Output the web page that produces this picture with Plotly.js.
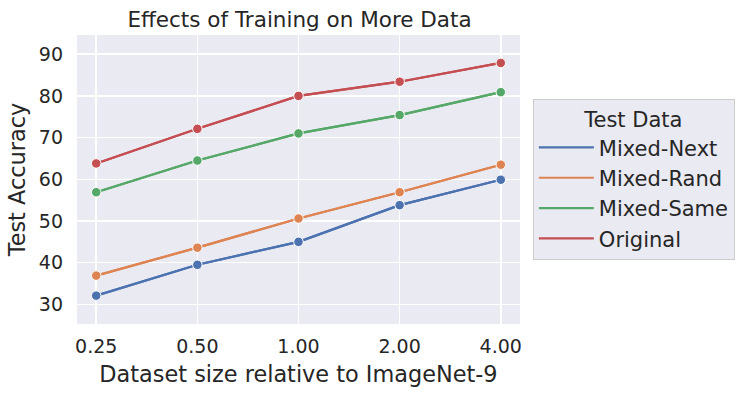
<!DOCTYPE html>
<html>
<head>
<meta charset="utf-8">
<script src="https://cdn.plot.ly/plotly-3.0.1.min.js"></script>
<style>
  html, body { margin: 0; padding: 0; background: #fff; }
  #graph { width: 747px; height: 395px; }
</style>
</head>
<body>
<div id="graph"></div>
<script>
var sizes = ['0.25', '0.50', '1.00', '2.00', '4.00'];

var mixedNext = [32.1, 39.5, 45.0, 53.8, 59.9];
var mixedRand = [36.9, 43.6, 50.6, 56.9, 63.5];
var mixedSame = [56.9, 64.5, 71.0, 75.4, 80.9];
var original = [63.8, 72.1, 80.0, 83.4, 87.9];

var seriesNames = ['Mixed-Next', 'Mixed-Rand', 'Mixed-Same', 'Original'];
var seriesColors = ['#4c72b0', '#dd8452', '#55a868', '#c44e52'];

function plotChart() {
    var values = [mixedNext, mixedRand, mixedSame, original];
    // lines only, these carry the legend entries
    var lineTraces = values.map((ys, i) => ({
        type: 'scatter',
        mode: 'lines',
        name: seriesNames[i],
        x: sizes,
        y: ys,
        line: { color: seriesColors[i], width: 2.2 }
    }));
    // same data again with the white-edged markers, kept out of the legend
    var markerTraces = values.map((ys, i) => ({
        type: 'scatter',
        mode: 'lines+markers',
        name: seriesNames[i],
        showlegend: false,
        x: sizes,
        y: ys,
        line: { color: seriesColors[i], width: 2.2 },
        marker: { color: seriesColors[i], size: 9.5, line: { color: '#ffffff', width: 1 } }
    }));

    var layout = {
        width: 747,
        height: 395,
        margin: { l: 77, r: 223, t: 35, b: 71 },
        paper_bgcolor: '#ffffff',
        plot_bgcolor: '#eaeaf2',
        font: { family: 'DejaVu Sans', color: '#262626', size: 18 },
        title: {
            text: 'Effects of Training on More Data',
            font: { size: 21.5, color: '#262626' },
            x: 0.401, xanchor: 'center',
            y: 0.95, yanchor: 'middle'
        },
        xaxis: {
            type: 'category',
            range: [-0.19, 4.19],
            showgrid: true,
            gridcolor: '#ffffff',
            gridwidth: 1.5,
            zeroline: false,
            showline: false,
            ticks: '',
            ticklabelstandoff: 9,
            tickfont: { size: 19 },
            title: { text: 'Dataset size relative to ImageNet-9', font: { size: 22.4 }, standoff: 10 }
        },
        yaxis: {
            range: [25.3, 94.6],
            tickvals: [30, 40, 50, 60, 70, 80, 90],
            showgrid: true,
            gridcolor: '#ffffff',
            gridwidth: 1.5,
            zeroline: false,
            showline: false,
            ticks: '',
            ticklabelstandoff: 13,
            tickfont: { size: 19 },
            title: { text: 'Test Accuracy', font: { size: 22.4 }, standoff: 6 }
        },
        showlegend: true,
        legend: {
            x: 1.029, xanchor: 'left',
            y: 0.5, yanchor: 'middle',
            bgcolor: '#eaeaf2',
            bordercolor: '#cccccc',
            borderwidth: 1,
            font: { size: 21 },
            title: { text: 'Test Data', side: 'top center', font: { size: 21 } },
            tracegroupgap: 0,
            itemwidth: 55
        }
    };

    Plotly.newPlot('graph', lineTraces.concat(markerTraces), layout, { displayModeBar: false, staticPlot: true });
}

plotChart();
</script>
</body>
</html>
